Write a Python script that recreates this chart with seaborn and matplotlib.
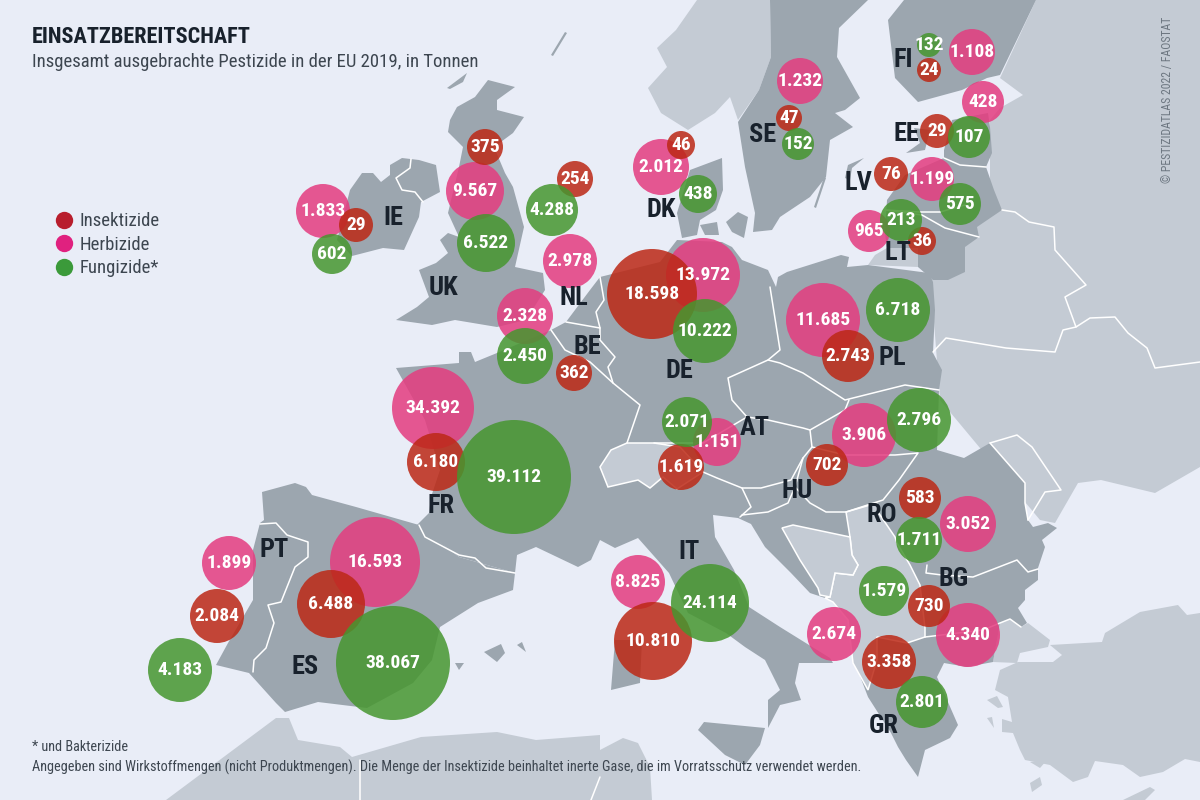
import numpy as np
import pandas as pd
import matplotlib
matplotlib.use("Agg")
import matplotlib.pyplot as plt
import seaborn as sns
from matplotlib.lines import Line2D
from matplotlib.patches import Polygon

# werte in tonnen, reihenfolge wie laender
laender = ["IE", "UK", "NL", "BE", "DK", "DE", "SE", "FI", "EE", "LV", "LT",
           "PL", "FR", "ES", "PT", "IT", "AT", "HU", "RO", "BG", "GR"]
herbizide = [1833, 9567, 2978, 2328, 2012, 13972, 1232, 1108, 428, 1199, 965,
             11685, 34392, 16593, 1899, 8825, 1151, 3906, 3052, 4340, 2674]
insektizide = [29, 375, 254, 362, 46, 18598, 47, 24, 29, 76, 36,
               2743, 6180, 6488, 2084, 10810, 1619, 702, 583, 730, 3358]
fungizide = [602, 6522, 4288, 2450, 438, 10222, 152, 132, 107, 575, 213,
             6718, 39112, 38067, 4183, 24114, 2071, 2796, 1711, 1579, 2801]

# lage der kreise auf der karte (x, y, radius in pixel)
herb_lage = [(323, 211, 27), (475, 191, 29), (570, 261, 27), (525, 316, 28), (661, 167, 28),
             (703, 275, 37), (800, 81, 23), (972, 52, 23), (983, 102, 21), (932, 179, 22),
             (869, 231, 21), (823, 320, 37), (433, 408, 41), (375, 562, 45), (229, 563, 27),
             (638, 582, 27), (717, 442, 24), (864, 435, 32), (968, 524, 28), (968, 635, 32),
             (834, 634, 27)]
ins_lage = [(356, 225, 17), (485, 147, 18), (575, 179, 18), (574, 373, 18), (681, 145, 14),
            (652, 294, 45), (789, 118, 13), (929, 70, 12), (937, 131, 17), (891, 174, 17),
            (922, 241, 14), (848, 356, 26), (436, 462, 29), (331, 604, 34), (217, 616, 27),
            (653, 641, 39), (681, 467, 23), (827, 465, 21), (920, 498, 21), (929, 606, 21),
            (889, 662, 27)]
fung_lage = [(332, 254, 20), (486, 243, 29), (552, 210, 26), (525, 356, 28), (698, 194, 19),
             (705, 331, 32), (798, 144, 16), (929, 45, 12), (969, 137, 21), (960, 204, 21),
             (901, 220, 21), (898, 310, 32), (514, 477, 57), (393, 663, 57), (180, 670, 32),
             (710, 603, 39), (687, 422, 25), (919, 420, 32), (919, 540, 23), (884, 591, 25),
             (922, 702, 26)]
land_label_lage = [(393, 218), (443, 288), (574, 298), (587, 347), (661, 210), (679, 371),
                   (763, 135), (903, 60), (906, 134), (858, 183), (898, 253), (892, 358),
                   (441, 506), (305, 667), (274, 550), (689, 552), (755, 428), (797, 491),
                   (882, 515), (954, 579), (884, 726)]

# kartenflaechen
festland = [(396, 368), (459, 363), (459, 352), (471, 352), (475, 362), (497, 353), (551, 330),
            (566, 322), (590, 290), (600, 277), (660, 262), (677, 240), (722, 242), (732, 247),
            (742, 260), (768, 270), (776, 287), (778, 277), (787, 272), (841, 255), (849, 257),
            (847, 267), (868, 265), (929, 273), (933, 282), (935, 310), (933, 353), (942, 370),
            (939, 390), (937, 450), (964, 458), (990, 443), (1025, 483), (1025, 503), (1028, 520),
            (1033, 527), (1048, 523), (1057, 528), (1042, 540), (1045, 547), (1038, 568),
            (1038, 580), (1025, 590), (1025, 600), (1018, 608), (1027, 623), (1021, 627),
            (1010, 619), (1000, 623), (993, 662), (967, 667), (944, 663), (937, 677), (958, 725),
            (950, 738), (925, 750), (918, 777), (906, 760), (898, 747), (891, 733), (868, 697),
            (855, 663), (848, 620), (833, 602), (825, 598), (810, 593), (791, 573), (765, 547),
            (751, 524), (738, 518), (713, 515), (715, 537), (734, 570), (749, 607), (780, 627),
            (830, 658), (833, 663), (799, 663), (795, 683), (801, 700), (780, 705), (768, 728),
            (768, 700), (780, 690), (765, 660), (745, 647), (726, 633), (688, 613), (669, 573),
            (638, 538), (615, 548), (600, 540), (591, 560), (578, 567), (536, 547), (517, 555),
            (515, 573), (459, 557), (417, 525), (429, 513), (431, 497), (440, 470), (425, 420)]
iberien = [(262, 492), (295, 483), (306, 487), (312, 495), (356, 507), (419, 525), (459, 557),
           (515, 573), (513, 590), (478, 603), (440, 627), (432, 660), (413, 683), (367, 708),
           (318, 702), (285, 712), (276, 703), (249, 673), (216, 665), (228, 643), (253, 600),
           (253, 550), (260, 523), (264, 520)]
uk = [(488, 80), (515, 87), (497, 100), (497, 110), (524, 117), (513, 133), (494, 147), (505, 173),
      (513, 187), (524, 227), (515, 267), (543, 273), (545, 290), (526, 320), (497, 327), (455, 320),
      (432, 325), (396, 320), (417, 307), (429, 297), (419, 270), (436, 263), (448, 253), (440, 240),
      (448, 233), (459, 237), (448, 213), (459, 167), (463, 147), (448, 132), (450, 120), (457, 107),
      (475, 97)]
irland = [(350, 190), (362, 173), (373, 173), (381, 182), (390, 175), (390, 165), (402, 158),
          (419, 160), (436, 165), (440, 192), (421, 202), (419, 217), (404, 250), (383, 248),
          (352, 256), (337, 240)]
schweden = [(770, 0), (868, 0), (839, 28), (837, 57), (860, 98), (845, 110), (835, 113), (853, 127),
            (830, 140), (826, 177), (810, 197), (780, 217), (772, 230), (753, 232), (755, 213),
            (745, 167), (738, 122), (759, 90), (771, 57)]
finnland = [(904, 0), (1036, 0), (1000, 75), (987, 78), (962, 90), (918, 102), (895, 78), (888, 20)]
baltikum = [(918, 267), (933, 280), (948, 280), (965, 272), (965, 247), (979, 237), (977, 227),
            (1002, 210), (994, 190), (986, 167), (992, 153), (990, 127), (988, 113), (952, 120),
            (944, 150), (944, 158), (905, 175), (887, 200), (885, 233), (887, 248), (918, 248)]
juetland = [(677, 213), (690, 170), (722, 158), (723, 190), (716, 210), (700, 220), (697, 235), (682, 238)]
inseln_dunkel = [[(700, 225), (717, 222), (719, 235), (705, 235)],
                 [(726, 222), (738, 212), (748, 217), (744, 238), (732, 232)],
                 [(484, 652), (501, 644), (505, 653), (497, 662)],
                 [(517, 645), (522, 642), (526, 652)],
                 [(455, 663), (464, 663), (459, 670)],
                 [(698, 730), (704, 722), (765, 728), (760, 745), (745, 765), (725, 755)],
                 [(611, 690), (640, 683), (642, 640), (615, 640)],
                 [(824, 177), (826, 178), (816, 208), (814, 207)],
                 [(845, 178), (848, 165), (864, 158), (852, 168), (850, 180)],
                 [(906, 153), (920, 143), (914, 128), (930, 130), (925, 150)],
                 [(447, 88), (467, 73), (463, 82), (450, 89)],
                 [(551, 55), (565, 32), (567, 33), (553, 56)]]
norwegen = [(697, 0), (770, 0), (771, 57), (759, 90), (738, 120), (730, 97), (715, 113), (688, 130),
            (661, 113), (648, 88), (667, 67), (657, 48), (676, 30)]
osten = [(1036, 0), (1200, 0), (1200, 467), (1155, 493), (1101, 480), (1078, 483), (1055, 523),
         (1040, 520), (940, 400), (930, 270), (990, 200), (990, 120), (1000, 108), (1023, 95),
         (1000, 78)]
tuerkei = [(995, 690), (1000, 670), (1018, 662), (1053, 662), (1062, 655), (1050, 645), (1102, 642),
           (1105, 633), (1140, 612), (1178, 605), (1187, 615), (1200, 613), (1200, 762), (1185, 759),
           (1163, 772), (1140, 777), (1123, 765), (1095, 761), (1088, 777), (1073, 782), (1050, 765),
           (1025, 760), (1020, 750), (1013, 733), (1002, 732), (1002, 719), (1012, 722), (1008, 697)]
thrakien = [(1000, 623), (1010, 619), (1021, 627), (1028, 623), (1050, 640), (1048, 647),
            (1020, 653), (1017, 663), (993, 662)]
nordafrika = [(166, 800), (276, 718), (289, 718), (298, 740), (340, 747), (352, 757), (421, 737),
              (497, 732), (536, 740), (600, 735), (600, 750), (623, 738), (638, 743), (650, 767),
              (652, 800)]
inseln_hell = [[(987, 700), (997, 696), (1003, 707), (998, 708)],
               [(987, 718), (992, 717), (994, 728)],
               [(1030, 762), (1047, 760), (1040, 768)],
               [(1030, 783), (1040, 777), (1042, 785), (1032, 792)],
               [(1123, 800), (1150, 787), (1155, 790), (1145, 800)],
               [(868, 265), (875, 255), (887, 248), (918, 248), (918, 267)]]
balkan = [(846, 512), (877, 503), (878, 512), (895, 537), (897, 543), (910, 565), (920, 585),
          (925, 628), (925, 637), (907, 643), (877, 637), (877, 660), (868, 690), (853, 663),
          (848, 620), (833, 602), (825, 598), (830, 597), (835, 573), (853, 575), (858, 565),
          (852, 555), (850, 537)]
bosnien = [(782, 528), (793, 525), (850, 537), (852, 555), (858, 565), (853, 575), (835, 573),
           (830, 597), (820, 595), (818, 588), (800, 560)]
schweiz = [(600, 467), (611, 450), (627, 443), (654, 443), (680, 447), (703, 472), (677, 489),
           (663, 477), (650, 488), (638, 480), (608, 487)]

# grenzen
grenzen = [
    [(419, 525), (425, 537), (459, 555), (475, 558), (486, 568), (515, 573)],
    [(260, 524), (276, 523), (287, 535), (308, 542), (308, 557), (295, 567), (281, 602), (268, 605),
     (274, 623), (266, 648), (254, 660), (253, 672)],
    [(411, 159), (410, 168), (396, 178), (402, 190), (415, 192), (423, 202)],
    [(551, 330), (565, 350), (590, 362), (613, 383), (640, 405), (627, 443)],
    [(566, 322), (600, 328), (600, 340), (615, 357), (608, 367), (613, 383)],
    [(600, 277), (604, 300), (596, 312), (600, 328)],
    [(770, 287), (780, 350), (768, 360), (728, 378), (732, 400), (747, 417), (703, 443), (654, 443)],
    [(768, 360), (780, 363), (803, 373), (814, 380), (845, 400), (905, 385), (939, 390)],
    [(747, 417), (768, 420), (803, 428), (810, 430), (845, 410), (849, 400)],
    [(810, 430), (812, 447), (803, 458), (795, 487), (788, 503), (768, 512), (742, 515)],
    [(703, 472), (717, 478), (742, 488), (761, 488), (791, 480), (803, 458)],
    [(742, 488), (751, 507), (740, 517)],
    [(812, 447), (845, 455), (895, 455), (918, 453), (899, 480), (883, 500), (846, 512), (826, 512),
     (810, 503), (795, 487)],
    [(990, 443), (1025, 483), (1025, 503), (1028, 520)],
    [(990, 443), (1017, 435), (1032, 447), (1061, 490), (1045, 492), (1028, 520)],
    [(927, 565), (926, 573), (942, 575), (973, 577), (1017, 560), (1028, 572), (1038, 569)],
    [(925, 637), (983, 630), (1000, 623), (1010, 619), (1021, 627)],
    [(1002, 210), (1015, 212), (1029, 222), (1054, 227), (1055, 250), (1086, 285), (1065, 297),
     (1076, 327), (1090, 318), (1115, 317), (1128, 333), (1147, 348), (1155, 368), (1200, 362)],
    [(933, 352), (946, 338), (1006, 348), (1055, 352), (1063, 330), (1076, 327)],
    [(885, 210), (920, 212), (940, 212), (965, 205)],
    [(885, 210), (922, 215), (945, 228), (979, 237)],
    [(944, 158), (960, 165), (986, 167)],
    [(360, 760), (360, 800)],
    [(600, 777), (591, 800)],
]

hintergrund = "#e9edf7"
eu_grau = "#9ca6af"
nicht_eu_grau = "#c4cbd4"
farben = {"Insektizide": "#bc2815", "Herbizide": "#e43c7f", "Fungizide": "#46962f"}
legenden_farben = {"Insektizide": "#b81e2d", "Herbizide": "#e0217f", "Fungizide*": "#3b9a3a"}
text_dunkel = "#18212c"
text_grau = "#3d4650"

sns.set_theme(style="white")
plt.rcParams["font.family"] = ["Roboto Condensed", "DejaVu Sans"]


def reihe(name, werte, lage):
    return pd.DataFrame({
        "land": laender,
        "mittel": name,
        "wert": werte,
        "x": [p[0] for p in lage],
        "y": [p[1] for p in lage],
        "radius": [p[2] for p in lage],
    })


df = pd.concat([
    reihe("Herbizide", herbizide, herb_lage),
    reihe("Insektizide", insektizide, ins_lage),
    reihe("Fungizide", fungizide, fung_lage),
], ignore_index=True)
df["label"] = df["wert"].map(lambda v: f"{v:,}".replace(",", "."))

fig = plt.figure(figsize=(12, 8), dpi=100, facecolor=hintergrund)
ax = fig.add_axes([0, 0, 1, 1], facecolor=hintergrund)

for flaeche in [norwegen, osten, tuerkei, thrakien, nordafrika]:
    ax.add_patch(Polygon(flaeche, closed=True, fc=nicht_eu_grau, ec="none", zorder=1))
for flaeche in [festland, iberien, uk, irland, schweden, finnland, baltikum, juetland] + inseln_dunkel:
    ax.add_patch(Polygon(flaeche, closed=True, fc=eu_grau, ec="none", zorder=2))
for flaeche in inseln_hell:
    ax.add_patch(Polygon(flaeche, closed=True, fc=nicht_eu_grau, ec="none", zorder=3))
for flaeche in [balkan, bosnien, schweiz]:
    ax.add_patch(Polygon(flaeche, closed=True, fc=nicht_eu_grau, ec="white", lw=1.1, zorder=3))
for linie in grenzen:
    ax.plot([p[0] for p in linie], [p[1] for p in linie], color="white", lw=1.1, zorder=3)

groessen = {r: (2 * r * 72 / 100) ** 2 for r in df["radius"].unique()}
sns.scatterplot(data=df, x="x", y="y", hue="mittel", palette=farben, size="radius", sizes=groessen,
                alpha=0.85, linewidth=0, legend=False, ax=ax, zorder=5)

for _, row in df.iterrows():
    ax.text(row["x"], row["y"], row["label"], color="white", fontsize=14, fontweight="bold",
            ha="center", va="center", zorder=7)
for name, (x, y) in zip(laender, land_label_lage):
    ax.text(x, y, name, color=text_dunkel, fontsize=19, fontweight="bold",
            ha="center", va="center", zorder=6)

ax.set_xlim(0, 1200)
ax.set_ylim(800, 0)
ax.set_xlabel("")
ax.set_ylabel("")
ax.set_axis_off()

griffe = [Line2D([], [], marker="o", ls="none", ms=12.5, mfc=f, mec="none", label=n)
          for n, f in legenden_farben.items()]
leg = ax.legend(handles=griffe, loc="upper left", bbox_to_anchor=(0.033, 0.756), frameon=False,
                fontsize=13.5, labelspacing=0.3, handlelength=0.8, handletextpad=0.43,
                labelcolor=text_grau)
leg.set_zorder(8)

ax.text(32, 37, "EINSATZBEREITSCHAFT", color=text_dunkel, fontsize=16, fontweight="bold",
        ha="left", va="center", zorder=8)
ax.text(32, 62, "Insgesamt ausgebrachte Pestizide in der EU 2019, in Tonnen", color=text_grau,
        fontsize=13.5, ha="left", va="center", zorder=8)
ax.text(32, 747, "* und Bakterizide", color=text_grau, fontsize=10.3, ha="left", va="center", zorder=8)
ax.text(32, 767, "Angegeben sind Wirkstoffmengen (nicht Produktmengen). Die Menge der Insektizide "
        "beinhaltet inerte Gase, die im Vorratsschutz verwendet werden.", color=text_grau,
        fontsize=10.3, ha="left", va="center", zorder=8)
ax.text(1167, 100, "© PESTIZIDATLAS 2022 / FAOSTAT", color="#6d7781", fontsize=8.5, rotation=90,
        ha="center", va="center", zorder=8)

fig.savefig("out.png", dpi=100, facecolor=hintergrund)
